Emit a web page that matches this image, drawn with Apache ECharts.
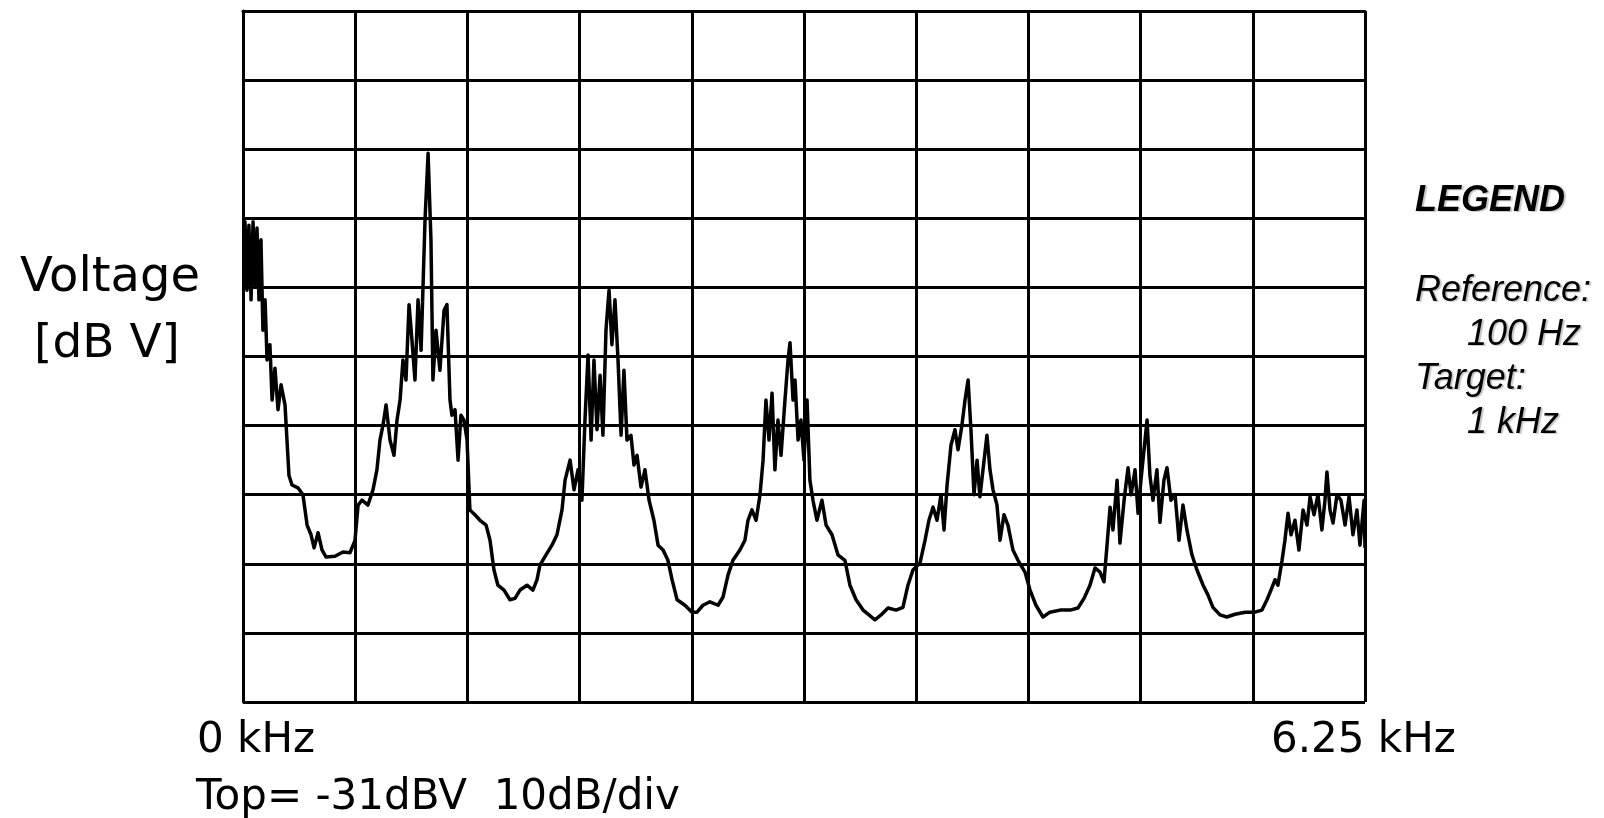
<!DOCTYPE html>
<html><head><meta charset="utf-8">
<script src="https://cdn.jsdelivr.net/npm/echarts@6/dist/echarts.min.js"></script>
<style>html,body{margin:0;padding:0;background:#fff}#c{width:1604px;height:818px}</style>
</head><body><div id="c"></div>
<script>
// Spectrum analyser trace: frequency (Hz) and level (dBV)
const TOP_DBV = -31;        // top of screen
const DB_PER_DIV = 10;
const DIVS = 10;
const SPAN_HZ = 6250;

const freqHz = [
6,11,22,33,45,56,67,78,89,100,
111,123,134,150,162,178,195,212,234,245,
256,273,306,334,357,379,396,418,440,462,
512,557,596,624,641,663,696,724,746,763,
780,797,819,841,858,875,891,908,925,941,
958,975,992,1014,1031,1047,1058,1075,1097,1120,
1136,1153,1164,1181,1198,1214,1231,1248,1264,1292,
1320,1354,1376,1398,1420,1454,1487,1515,1543,1582,
1615,1638,1654,1688,1721,1749,1777,1794,1822,1844,
1866,1888,1905,1922,1939,1955,1972,1989,2005,2022,
2039,2055,2072,2089,2106,2122,2139,2161,2178,2195,
2217,2239,2262,2289,2312,2340,2367,2390,2418,2462,
2501,2529,2562,2601,2646,2674,2702,2729,2768,2796,
2813,2835,2858,2880,2897,2913,2930,2947,2963,2980,
2997,3019,3036,3047,3064,3075,3092,3108,3125,3142,
3158,3175,3197,3225,3248,3281,3314,3353,3381,3415,
3454,3487,3520,3554,3593,3638,3676,3704,3732,3771,
3799,3821,3844,3866,3888,3905,3922,3944,3966,3983,
4005,4022,4039,4055,4072,4089,4105,4122,4144,4161,
4178,4200,4217,4239,4261,4289,4317,4356,4384,4417,
4456,4495,4551,4607,4651,4685,4718,4746,4774,4796,
4813,4830,4846,4869,4885,4908,4930,4947,4969,4986,
5002,5019,5036,5052,5069,5091,5108,5130,5147,5169,
5192,5214,5236,5258,5286,5314,5348,5375,5403,5442,
5481,5526,5582,5637,5676,5704,5726,5749,5765,5788,
5804,5821,5838,5860,5882,5905,5927,5944,5966,5988,
6010,6027,6038,6055,6072,6094,6116,6139,6161,6183,
6205,6222,6245,6250
];

const levelDbV = [
-69.9,-61.5,-71.4,-62.0,-72.8,-61.5,-70.7,-62.4,-72.8,-64.1,
-77.2,-72.8,-81.5,-79.3,-87.3,-82.7,-88.7,-85.1,-88.0,-93.1,
-98.2,-99.6,-100.0,-101.0,-105.4,-106.8,-108.7,-106.5,-109.0,-110.0,
-109.9,-109.3,-109.4,-107.6,-102.5,-101.8,-102.5,-100.3,-97.4,-93.1,
-90.9,-88.0,-93.1,-95.3,-90.2,-87.3,-81.5,-84.4,-73.5,-78.6,
-84.4,-72.8,-80.1,-61.2,-51.6,-64.1,-84.4,-77.2,-83.0,-74.3,
-73.5,-87.3,-89.5,-88.7,-96.0,-89.5,-90.2,-93.1,-103.2,-103.9,
-104.7,-105.4,-107.6,-111.9,-114.1,-114.8,-116.2,-116.0,-114.8,-114.1,
-114.8,-113.3,-111.2,-109.7,-108.3,-106.8,-103.2,-98.9,-96.0,-100.3,
-97.4,-101.8,-90.2,-80.8,-93.1,-81.5,-91.6,-83.7,-92.4,-77.2,
-71.4,-79.3,-72.8,-81.5,-92.4,-83.0,-93.1,-92.4,-96.7,-95.3,
-99.9,-97.4,-101.8,-104.7,-108.3,-109.0,-110.5,-113.3,-116.2,-117.0,
-118.0,-118.0,-117.0,-116.5,-117.0,-115.8,-112.6,-110.5,-109.0,-107.6,
-104.7,-103.2,-104.7,-101.0,-96.0,-87.3,-93.1,-86.3,-97.4,-90.2,
-95.3,-87.3,-81.5,-79.0,-87.3,-84.4,-93.1,-90.2,-96.0,-87.3,
-98.9,-101.8,-104.7,-101.8,-105.4,-106.8,-109.7,-110.5,-114.1,-116.2,
-117.7,-118.4,-119.1,-118.4,-117.4,-117.7,-117.3,-114.1,-111.9,-110.9,
-107.6,-104.7,-102.8,-104.7,-101.0,-106.1,-99.6,-93.8,-91.6,-94.5,
-90.9,-87.3,-84.4,-91.6,-101.0,-96.0,-101.3,-97.4,-92.4,-97.4,
-100.3,-102.5,-107.6,-103.9,-105.4,-109.0,-110.5,-112.2,-114.8,-117.0,
-118.7,-118.0,-117.7,-117.7,-117.4,-116.0,-114.1,-111.6,-112.2,-113.6,
-108.3,-102.8,-106.1,-98.9,-108.0,-101.8,-97.1,-101.0,-97.4,-103.7,
-98.9,-94.5,-90.2,-98.2,-101.8,-97.4,-105.0,-98.9,-97.1,-101.8,
-101.0,-107.6,-102.5,-106.1,-109.7,-111.9,-114.1,-115.5,-117.3,-118.4,
-118.7,-118.3,-118.0,-118.0,-117.7,-116.2,-114.8,-113.3,-114.1,-110.5,
-107.6,-103.7,-106.8,-104.7,-109.0,-103.2,-105.4,-101.3,-103.9,-101.0,
-106.1,-101.8,-97.7,-103.2,-105.1,-101.0,-101.8,-105.4,-101.3,-106.8,
-103.2,-108.3,-101.8,-108.7
];

const xEndLabels = ['0 kHz', '6.25 kHz'];
const yTitleLines = ['Voltage', '[dB V]'];
const footerText = 'Top= -31dBV  10dB/div';
const legendTitle = 'LEGEND';
const legendLines = ['Reference:', '100 Hz', 'Target:', '1 kHz'];

// plot relative to top of screen (0 = top line)
const seriesData = freqHz.map((f, i) => [f, levelDbV[i] - TOP_DBV]);

const chart = echarts.init(document.getElementById('c'), null, {renderer: 'canvas'});
const GRID = '#000';
const bitFont = '"DejaVu Sans", "Liberation Sans", sans-serif';
const legFont = '"Liberation Sans", Arial, sans-serif';
function txt(s, x, y, font, align, extra) {
  return {
    type: 'text', x: x, y: y, silent: true,
    style: Object.assign({text: s, font: font, fill: '#000', align: align, textAlign: align,
      verticalAlign: 'middle', textVerticalAlign: 'middle'}, extra || {})
  };
}
const shadow = {textShadowColor: 'rgba(0,0,0,0.22)', textShadowOffsetX: 2, textShadowOffsetY: 1, textShadowBlur: 1};

chart.setOption({
  animation: false,
  backgroundColor: '#fff',
  grid: {left: 243, right: 239, top: 11, bottom: 116, show: false},
  xAxis: {
    type: 'value', min: 0, max: SPAN_HZ, interval: SPAN_HZ / DIVS,
    axisLabel: {show: false}, axisTick: {show: false},
    axisLine: {show: true, lineStyle: {color: GRID, width: 3}},
    splitLine: {show: true, lineStyle: {color: GRID, width: 3}}
  },
  yAxis: {
    type: 'value', min: -DB_PER_DIV * DIVS, max: 0, interval: DB_PER_DIV,
    axisLabel: {show: false}, axisTick: {show: false},
    axisLine: {show: true, lineStyle: {color: GRID, width: 3}},
    splitLine: {show: true, lineStyle: {color: GRID, width: 3}}
  },
  series: [{
    type: 'line', data: seriesData, showSymbol: false, symbol: 'none',
    lineStyle: {color: '#000', width: 3.5, join: 'round'}, z: 5, clip: true
  }],
  graphic: [
    txt(yTitleLines[0], 110, 279, '48px ' + bitFont, 'center'),
    txt(yTitleLines[1], 107, 345, '47px ' + bitFont, 'center'),
    txt(xEndLabels[0], 197, 741, '42px ' + bitFont, 'left'),
    txt(xEndLabels[1], 1271, 741, '42px ' + bitFont, 'left'),
    txt(footerText, 196, 798, '42px ' + bitFont, 'left'),
    txt(legendTitle, 1415, 201, 'italic bold 36px ' + legFont, 'left', shadow),
    txt(legendLines[0], 1415, 291, 'italic 36px ' + legFont, 'left', shadow),
    txt(legendLines[1], 1467, 335, 'italic 36px ' + legFont, 'left', shadow),
    txt(legendLines[2], 1415, 379, 'italic 36px ' + legFont, 'left', shadow),
    txt(legendLines[3], 1467, 423, 'italic 36px ' + legFont, 'left', shadow)
  ]
});
</script></body></html>
